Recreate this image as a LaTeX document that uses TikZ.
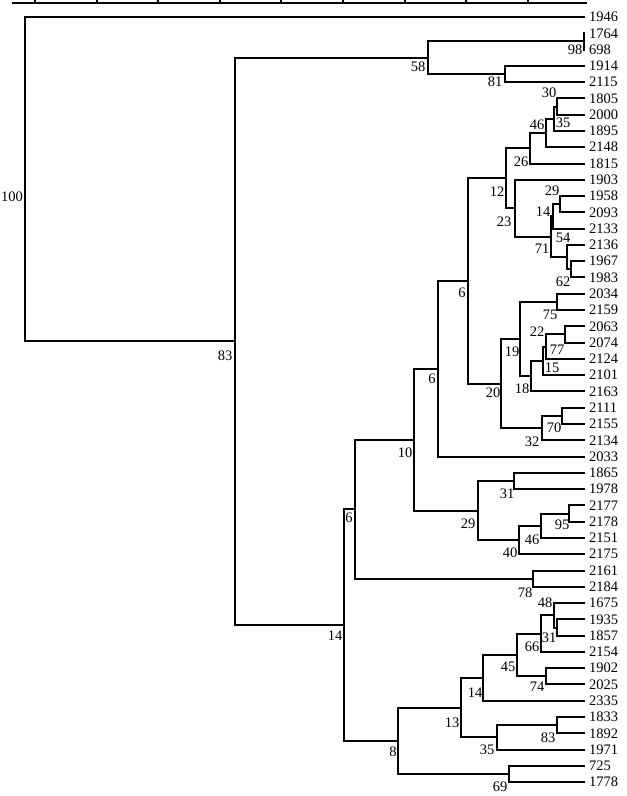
\documentclass[tikz,border=0pt]{standalone}
\usepackage{fontspec}
\setmainfont{Liberation Serif}
\begin{document}
\begin{tikzpicture}[x=1pt,y=-1pt,
  br/.style={line width=2pt},
  leaf/.style={anchor=west, inner xsep=4pt, inner ysep=0pt, font=\fontsize{14.5}{16}\selectfont},
  bs/.style={inner sep=0pt, font=\fontsize{14.5}{16}\selectfont}]
\useasboundingbox (0,0) rectangle (627,796);
% scale axis
\coordinate (axl) at (12,3);
\coordinate (axr) at (587,3);
\draw[br] (axl) -- (axr);
\foreach \k in {0,...,8} \draw[br] ({35+61.6*\k},3) -- ++(0,-4);
% leaves
\foreach \n [count=\i from 0] in {1946,1764,698,1914,2115,1805,2000,1895,2148,1815,1903,1958,2093,2133,2136,1967,1983,2034,2159,2063,2074,2124,2101,2163,2111,2155,2134,2033,1865,1978,2177,2178,2151,2175,2161,2184,1675,1935,1857,2154,1902,2025,2335,1833,1892,1971,725,1778}
  \node[leaf] (l\n) at (585,{17+16.28*\i}) {\n};
% internal nodes
\coordinate (n98) at (584,41.45);
\coordinate (n81) at (505,73.95);
\coordinate (n58) at (428,57.7);
\coordinate (n30) at (557,106.55);
\coordinate (n35a) at (554,118.8);
\coordinate (n46a) at (546,133.0);
\coordinate (n26) at (530,148.25);
\coordinate (n29a) at (560,204.25);
\coordinate (n14a) at (553,216.4);
\coordinate (n62) at (571,269.35);
\coordinate (n54) at (567,257.1);
\coordinate (n71) at (551,236.75);
\coordinate (n23) at (515,208.3);
\coordinate (n12) at (506,178.3);
\coordinate (n75) at (557,301.9);
\coordinate (n77) at (565,334.45);
\coordinate (n15) at (546,346.7);
\coordinate (n22) at (543,360.95);
\coordinate (n18) at (531,376.2);
\coordinate (n19) at (520,339.05);
\coordinate (n70) at (562,415.85);
\coordinate (n32) at (542,428.1);
\coordinate (n20) at (501,383.6);
\coordinate (n6c) at (468,280.95);
\coordinate (n6b) at (438,368.8);
\coordinate (n31a) at (514,480.95);
\coordinate (n95) at (569,513.55);
\coordinate (n46b) at (541,525.8);
\coordinate (n40) at (519,540.0);
\coordinate (n29b) at (478,510.5);
\coordinate (n10) at (414,439.65);
\coordinate (n78) at (533,578.65);
\coordinate (n6a) at (355,509.15);
\coordinate (n31b) at (557,627.5);
\coordinate (n48) at (554,615.3);
\coordinate (n66) at (541,633.6);
\coordinate (n74) at (546,676.35);
\coordinate (n45) at (517,654.98);
\coordinate (n14b) at (483,677.9);
\coordinate (n83b) at (557,725.15);
\coordinate (n35b) at (497,737.4);
\coordinate (n13) at (461,707.65);
\coordinate (n69) at (509,774.05);
\coordinate (n8) at (398,740.85);
\coordinate (n14c) at (344,625.0);
\coordinate (n83) at (235,341.35);
\coordinate (root) at (25,179.2);
% branches
\draw[br] (l1764.west) -| (n98) |- (l698.west);
\draw[br] (l1914.west) -| (n81) |- (l2115.west);
\draw[br] (n98) -| (n58) |- (n81);
\draw[br] (l1805.west) -| (n30) |- (l2000.west);
\draw[br] (n30) -| (n35a) |- (l1895.west);
\draw[br] (n35a) -| (n46a) |- (l2148.west);
\draw[br] (n46a) -| (n26) |- (l1815.west);
\draw[br] (l1958.west) -| (n29a) |- (l2093.west);
\draw[br] (n29a) -| (n14a) |- (l2133.west);
\draw[br] (l1967.west) -| (n62) |- (l1983.west);
\draw[br] (l2136.west) -| (n54) |- (n62);
\draw[br] (n14a) -| (n71) |- (n54);
\draw[br] (l1903.west) -| (n23) |- (n71);
\draw[br] (n26) -| (n12) |- (n23);
\draw[br] (l2034.west) -| (n75) |- (l2159.west);
\draw[br] (l2063.west) -| (n77) |- (l2074.west);
\draw[br] (n77) -| (n15) |- (l2124.west);
\draw[br] (n15) -| (n22) |- (l2101.west);
\draw[br] (n22) -| (n18) |- (l2163.west);
\draw[br] (n75) -| (n19) |- (n18);
\draw[br] (l2111.west) -| (n70) |- (l2155.west);
\draw[br] (n70) -| (n32) |- (l2134.west);
\draw[br] (n19) -| (n20) |- (n32);
\draw[br] (n12) -| (n6c) |- (n20);
\draw[br] (n6c) -| (n6b) |- (l2033.west);
\draw[br] (l1865.west) -| (n31a) |- (l1978.west);
\draw[br] (l2177.west) -| (n95) |- (l2178.west);
\draw[br] (n95) -| (n46b) |- (l2151.west);
\draw[br] (n46b) -| (n40) |- (l2175.west);
\draw[br] (n31a) -| (n29b) |- (n40);
\draw[br] (n6b) -| (n10) |- (n29b);
\draw[br] (l2161.west) -| (n78) |- (l2184.west);
\draw[br] (n10) -| (n6a) |- (n78);
\draw[br] (l1935.west) -| (n31b) |- (l1857.west);
\draw[br] (l1675.west) -| (n48) |- (n31b);
\draw[br] (n48) -| (n66) |- (l2154.west);
\draw[br] (l1902.west) -| (n74) |- (l2025.west);
\draw[br] (n66) -| (n45) |- (n74);
\draw[br] (n45) -| (n14b) |- (l2335.west);
\draw[br] (l1833.west) -| (n83b) |- (l1892.west);
\draw[br] (n83b) -| (n35b) |- (l1971.west);
\draw[br] (n14b) -| (n13) |- (n35b);
\draw[br] (l725.west) -| (n69) |- (l1778.west);
\draw[br] (n13) -| (n8) |- (n69);
\draw[br] (n6a) -| (n14c) |- (n8);
\draw[br] (n58) -| (n83) |- (n14c);
\draw[br] (l1946.west) -| (root) |- (n83);
% bootstrap values
\node[bs] (b100) at (12,197) {100};
\node[bs] (b83) at (225,356) {83};
\node[bs] (b58) at (418,67) {58};
\node[bs] (b81) at (495,82) {81};
\node[bs] (b98) at (575,50) {98};
\node[bs] (b30) at (549,93) {30};
\node[bs] (b46a) at (537,125) {46};
\node[bs] (b35a) at (563,123) {35};
\node[bs] (b26) at (521,162) {26};
\node[bs] (b12) at (497,192) {12};
\node[bs] (b29a) at (552,191) {29};
\node[bs] (b14a) at (543,212) {14};
\node[bs] (b23) at (504,222) {23};
\node[bs] (b54) at (563,238) {54};
\node[bs] (b71) at (542,249) {71};
\node[bs] (b62) at (563,282) {62};
\node[bs] (b6c) at (462,293) {6};
\node[bs] (b75) at (550,315) {75};
\node[bs] (b22) at (537,332) {22};
\node[bs] (b19) at (512,352) {19};
\node[bs] (b77) at (557,350) {77};
\node[bs] (b15) at (552,368) {15};
\node[bs] (b18) at (522,389) {18};
\node[bs] (b20) at (493,393) {20};
\node[bs] (b6b) at (432,379) {6};
\node[bs] (b70) at (554,428) {70};
\node[bs] (b32) at (532,442) {32};
\node[bs] (b10) at (405,453) {10};
\node[bs] (b31a) at (507,494) {31};
\node[bs] (b29b) at (468,524) {29};
\node[bs] (b95) at (562,525) {95};
\node[bs] (b6a) at (349,518) {6};
\node[bs] (b46b) at (532,540) {46};
\node[bs] (b40) at (510,553) {40};
\node[bs] (b78) at (525,593) {78};
\node[bs] (b48) at (545,603) {48};
\node[bs] (b31b) at (549,638) {31};
\node[bs] (b66) at (532,647) {66};
\node[bs] (b14c) at (335,636) {14};
\node[bs] (b45) at (508,667) {45};
\node[bs] (b74) at (537,687) {74};
\node[bs] (b14b) at (475,693) {14};
\node[bs] (b13) at (452,723) {13};
\node[bs] (b83b) at (548,738) {83};
\node[bs] (b35b) at (487,750) {35};
\node[bs] (b8) at (393,752) {8};
\node[bs] (b69) at (500,787) {69};
\end{tikzpicture}
\end{document}
